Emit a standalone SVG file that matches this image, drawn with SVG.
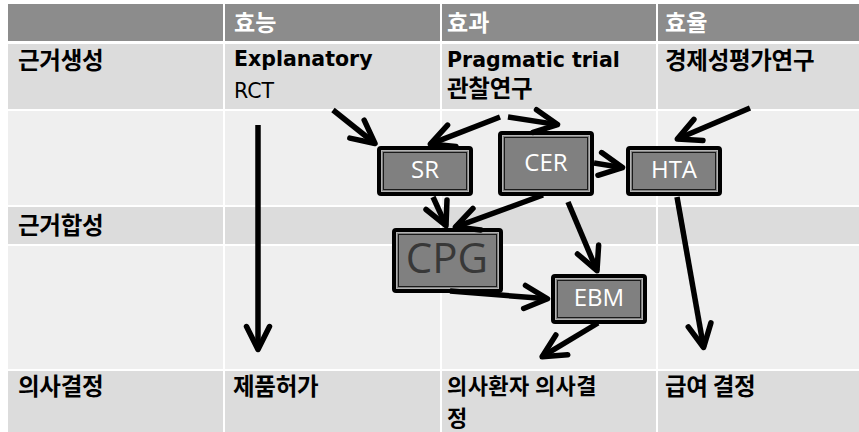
<svg xmlns="http://www.w3.org/2000/svg" width="859" height="432" viewBox="0 0 859 432">
<style>
.hd{fill:#8c8c8c}
.r1{fill:#dcdcdc}
.r2{fill:#efefef}
.ko{font-family:'Noto Sans CJK KR',sans-serif;font-weight:bold;font-size:23.5px;letter-spacing:-0.3px;fill:#000}
.ks{font-size:22px;letter-spacing:0.4px}
.kh{font-family:'Noto Sans CJK KR',sans-serif;font-weight:bold;font-size:23px;letter-spacing:0px;fill:#fff}
.lb{font-family:'DejaVu Sans','Noto Sans CJK KR',sans-serif;font-weight:bold;font-size:20.5px;fill:#000}
.lr{font-family:'DejaVu Sans','Noto Sans CJK KR',sans-serif;font-size:20.5px;fill:#000}
.bo{fill:#808080;stroke:#000;stroke-width:4}
.bi{fill:none;stroke:#b4b4b4;stroke-width:1}
.bj{fill:none;stroke:#1a1a1a;stroke-width:1}
.bt{font-family:'Open Sans',sans-serif;font-size:24px;fill:#fff;text-anchor:middle}
.big{font-family:'Open Sans',sans-serif;font-size:42px;fill:#383838;text-anchor:middle}
.ar{fill:none;stroke:#000;stroke-width:5.5;marker-end:url(#ah)}
</style>
<defs>
<marker id="ah" markerUnits="userSpaceOnUse" orient="auto" refX="0" refY="0" markerWidth="60" markerHeight="60" viewBox="-30 -30 60 60" overflow="visible">
<path d="M-23,-11.5 L0,0 L-23,11.5" fill="none" stroke="#000" stroke-width="5.5" stroke-linejoin="round" stroke-linecap="round"/>
</marker>
</defs>
<rect width="859" height="432" fill="#fff"/>
<g id="table">
<rect class="hd" x="8" y="4" width="215" height="37"/>
<rect class="hd" x="225" y="4" width="215" height="37"/>
<rect class="hd" x="442" y="4" width="214" height="37"/>
<rect class="hd" x="658" y="4" width="201" height="37"/>
<rect class="r1" x="8" y="44" width="215" height="65"/>
<rect class="r1" x="225" y="44" width="215" height="65"/>
<rect class="r1" x="442" y="44" width="214" height="65"/>
<rect class="r1" x="658" y="44" width="201" height="65"/>
<rect class="r2" x="8" y="111" width="215" height="94"/>
<rect class="r2" x="225" y="111" width="215" height="94"/>
<rect class="r2" x="442" y="111" width="214" height="94"/>
<rect class="r2" x="658" y="111" width="201" height="94"/>
<rect class="r1" x="8" y="207" width="215" height="37"/>
<rect class="r1" x="225" y="207" width="215" height="37"/>
<rect class="r1" x="442" y="207" width="214" height="37"/>
<rect class="r1" x="658" y="207" width="201" height="37"/>
<rect class="r2" x="8" y="246" width="215" height="123"/>
<rect class="r2" x="225" y="246" width="215" height="123"/>
<rect class="r2" x="442" y="246" width="214" height="123"/>
<rect class="r2" x="658" y="246" width="201" height="123"/>
<rect class="r1" x="8" y="371" width="215" height="61"/>
<rect class="r1" x="225" y="371" width="215" height="61"/>
<rect class="r1" x="442" y="371" width="214" height="61"/>
<rect class="r1" x="658" y="371" width="201" height="61"/>
<text class="kh" x="234" y="31">효능</text>
<text class="kh" x="447" y="31">효과</text>
<text class="kh" x="665" y="31">효율</text>
<text class="ko" x="18" y="69">근거생성</text>
<text class="lb" x="234" y="66">Explanatory</text>
<text class="lr" x="234" y="98">RCT</text>
<text class="lb" x="447" y="67">Pragmatic trial</text>
<text class="ko" x="447" y="97">관찰연구</text>
<text class="ko" x="665" y="69">경제성평가연구</text>
<text class="ko" x="18" y="234">근거합성</text>
<text class="ko" x="18" y="395">의사결정</text>
<text class="ko" x="233" y="395">제품허가</text>
<text class="ko ks" x="447" y="394">의사환자 의사결<tspan x="447" dy="32">정</tspan></text>
<text class="ko" x="665" y="395">급여 결정</text>
</g>
<g id="SR">
<rect class="bo" x="379" y="148" width="92" height="46" rx="2"/>
<rect class="bi" x="381.5" y="150.5" width="87" height="41"/>
<rect class="bj" x="383.5" y="152.5" width="83" height="37"/>
<text class="bt" x="425" y="178">SR</text>
</g>
<g id="CER">
<rect class="bo" x="500" y="133" width="92" height="61" rx="2"/>
<rect class="bi" x="502.5" y="135.5" width="87" height="56"/>
<rect class="bj" x="504.5" y="137.5" width="83" height="52"/>
<text class="bt" x="546" y="170.5">CER</text>
</g>
<g id="HTA">
<rect class="bo" x="628" y="148" width="92" height="46" rx="2"/>
<rect class="bi" x="630.5" y="150.5" width="87" height="41"/>
<rect class="bj" x="632.5" y="152.5" width="83" height="37"/>
<text class="bt" x="674" y="178">HTA</text>
</g>
<g id="CPG">
<rect class="bo" x="394" y="230" width="107" height="61" rx="2"/>
<rect class="bi" x="396.5" y="232.5" width="102" height="56"/>
<rect class="bj" x="398.5" y="234.5" width="98" height="52"/>
<text class="big" x="447" y="273">CPG</text>
</g>
<g id="EBM">
<rect class="bo" x="553" y="276" width="92" height="46" rx="2"/>
<rect class="bi" x="555.5" y="278.5" width="87" height="41"/>
<rect class="bj" x="557.5" y="280.5" width="83" height="37"/>
<text class="bt" x="599" y="305.5">EBM</text>
</g>
<g id="connectors">
<line class="ar" x1="258" y1="125" x2="258" y2="349.5"/>
<line class="ar" x1="333" y1="110" x2="375" y2="143.5"/>
<line class="ar" x1="500" y1="117" x2="430.3" y2="144.1"/>
<line class="ar" x1="508" y1="117" x2="557.5" y2="124.6"/>
<line class="ar" x1="750" y1="108" x2="677.3" y2="139"/>
<line class="ar" x1="594" y1="163" x2="622.5" y2="167.6"/>
<line class="ar" x1="433" y1="197" x2="446" y2="225.7"/>
<line class="ar" x1="543" y1="195" x2="455.3" y2="227.1"/>
<line class="ar" x1="568" y1="202" x2="597" y2="270.7"/>
<line class="ar" x1="450" y1="291" x2="547.5" y2="298.8"/>
<line class="ar" x1="598" y1="323" x2="542.1" y2="356.7"/>
<line class="ar" x1="677" y1="197" x2="703.6" y2="347.5"/>
</g>
</svg>
